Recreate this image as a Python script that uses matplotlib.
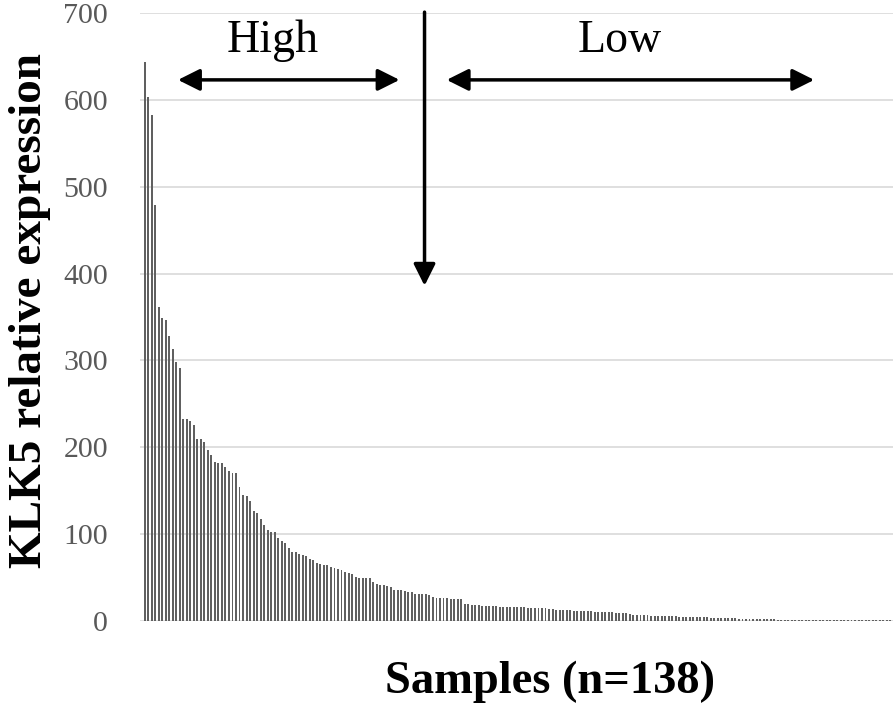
import matplotlib
matplotlib.use("Agg")
import matplotlib.pyplot as plt
import numpy as np

# KLK5 relative expression per sample, sorted descending
values = [
    644, 603, 583, 479, 362, 349, 346, 328, 313, 298, 291, 232, 232, 230, 226,
    210, 209, 206, 197, 191, 183, 182, 182, 177, 173, 170, 170, 154, 145, 144,
    138, 127, 124, 117, 110, 105, 102, 102,
    95, 92, 90, 84, 80, 79, 77, 76, 75, 71, 70, 67, 66, 65, 64, 62, 61, 60, 59,
    56, 55, 54, 51, 50, 50, 50, 49, 45, 43, 42, 41,
    40, 39.5, 36, 36, 36, 35, 33, 33, 31, 31, 31, 31, 29.5, 28, 27, 26, 26, 26,
    25, 25, 25, 25, 20, 19, 18, 18, 18, 17.6, 17.6, 17, 17, 17, 16, 16, 16, 15.8,
    15.7, 15.7, 15.7, 15.7, 15.3, 14.9, 14.9, 14.9, 14.6, 14.6, 13.4, 13.4, 13,
    12.6, 12.6, 12.3, 12.3, 11.9, 11.9, 11.5, 11.5, 11.1, 11.1, 10.7, 10.7, 10.3,
    10.3, 10, 10, 9.6, 9.6, 9.2, 8.8, 7.7, 7.3, 6.5,
    6.5, 6.5, 6.4, 6.1, 6.1, 6.0, 5.7, 5.7, 5.6, 5.4, 5.3, 5.0, 5.0, 4.9, 4.6,
    4.6, 4.5, 4.2, 4.2, 4.1, 3.8, 3.8, 3.7, 3.4, 3.4, 3.1, 3.1, 3.0, 2.7, 2.7,
    2.6, 2.3, 2.3, 2.2, 1.9, 1.9,
    1.9, 1.8, 1.8, 1.7, 1.7, 1.7, 1.6, 1.6, 1.6, 1.5, 1.5, 1.5, 1.5, 1.4, 1.4,
    1.4, 1.4, 1.3, 1.3, 1.3, 1.3, 1.2, 1.2, 1.2, 1.2, 1.1, 1.1, 1.1, 1.1, 1.0,
    1.0, 1.0, 1.0, 0.9, 0.9, 0.9,
]
yticks = [0, 100, 200, 300, 400, 500, 600, 700]
xlabel = "Samples (n=138)"
ylabel = "KLK5 relative expression"
group_labels = ["High", "Low"]

serif = ["Liberation Serif", "DejaVu Serif"]

fig = plt.figure(figsize=(8.94, 7.07), dpi=100)
ax = fig.add_axes([140 / 894, 86 / 707, 753 / 894, 608 / 707])

x = np.arange(len(values))
ax.bar(x, values, width=0.55, color="#606060", zorder=2)

ax.set_ylim(0, 700)
ax.set_xlim(-1.3, len(values) - 0.2)
ax.set_yticks(yticks)
ax.set_xticks([])
ax.yaxis.grid(True, color="#d9d9d9", linewidth=1.2, zorder=0)
ax.set_axisbelow(True)
for s in ax.spines.values():
    s.set_visible(False)
ax.tick_params(axis="y", length=0, pad=23, labelsize=21.5, labelcolor="#595959")
for lab in ax.get_yticklabels():
    lab.set_fontfamily(serif)

fig.text(30 / 894, 1 - 310 / 707, ylabel, rotation=90, ha="center", va="center",
         fontsize=34, fontweight="bold", family=serif)
fig.text(550 / 894, 1 - 682 / 707, xlabel, ha="center", va="center",
         fontsize=33.5, fontweight="bold", family=serif)

# annotation positions in data coords
ax.text(36.5, 668, group_labels[0], ha="center", va="center", fontsize=33, family=serif)
ax.text(135, 668, group_labels[1], ha="center", va="center", fontsize=33, family=serif)

akw = dict(color="black", lw=2.5, shrinkA=0, shrinkB=0, mutation_scale=22)
ax.annotate("", xy=(9.5, 623), xytext=(72.5, 623),
            arrowprops=dict(arrowstyle="<|-|>,head_length=0.6,head_width=0.3", **akw),
            annotation_clip=False)
ax.annotate("", xy=(85.9, 623), xytext=(190.4, 623),
            arrowprops=dict(arrowstyle="<|-|>,head_length=0.6,head_width=0.3", **akw),
            annotation_clip=False)
ax.annotate("", xy=(79.6, 386), xytext=(79.6, 701),
            arrowprops=dict(arrowstyle="-|>,head_length=0.6,head_width=0.3", **akw),
            annotation_clip=False)

fig.savefig("out.png", dpi=100, facecolor="white")
